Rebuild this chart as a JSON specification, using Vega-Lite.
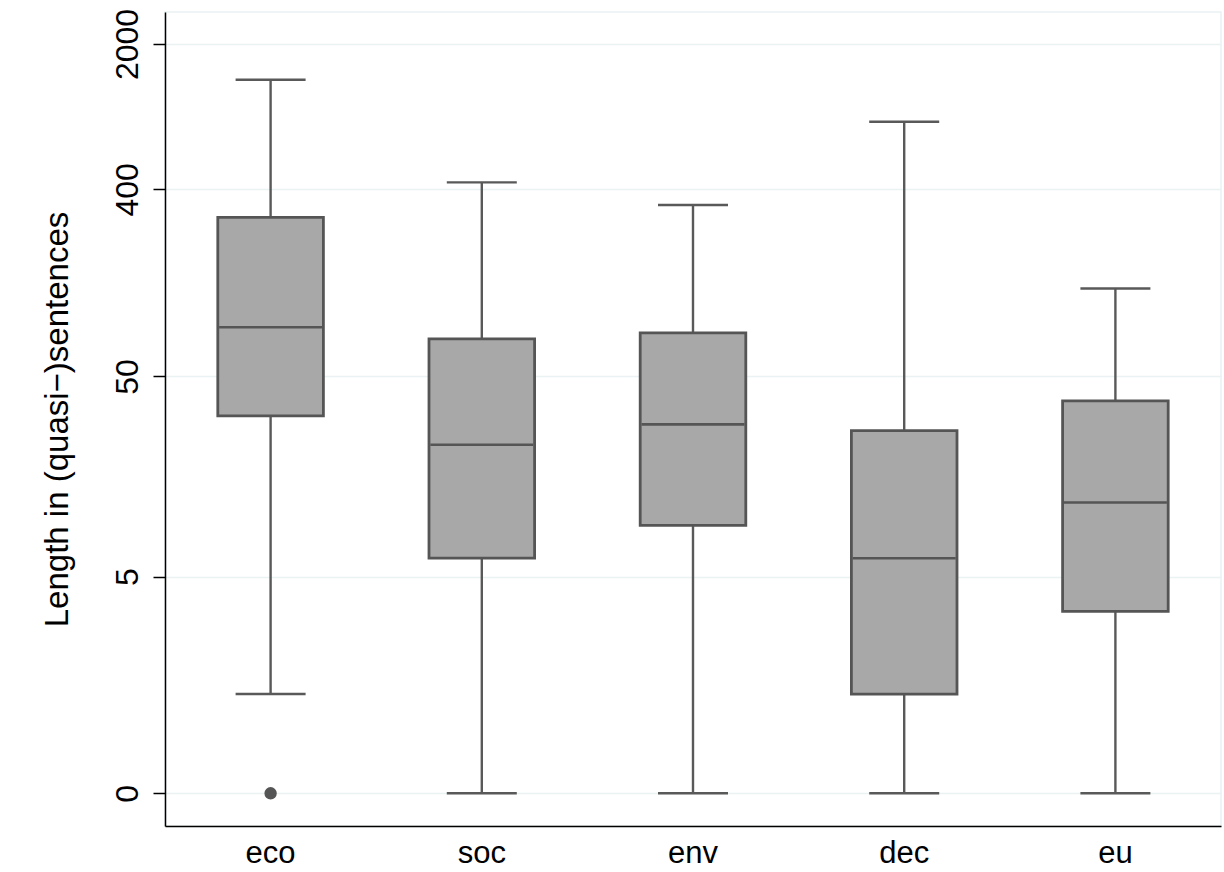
{
  "$schema": "https://vega.github.io/schema/vega-lite/v6.json",
  "width": 1056,
  "height": 814,
  "autosize": "none",
  "padding": {"left": 165, "top": 12, "right": 3, "bottom": 46},
  "background": "white",
  "config": {
    "view": {"stroke": "#EAF2F3", "strokeWidth": 1.5},
    "font": "Liberation Sans"
  },
  "datasets": {
    "boxes": [
      {"cat": "eco", "lower": 1, "q1": 32.1, "median": 86.5, "q3": 293, "upper": 1347},
      {"cat": "soc", "lower": 0, "q1": 6.25, "median": 23.2, "q3": 76, "upper": 432},
      {"cat": "env", "lower": 0, "q1": 9.2, "median": 29.2, "q3": 81.3, "upper": 336},
      {"cat": "dec", "lower": 0, "q1": 1, "median": 6.25, "q3": 27.2, "upper": 846},
      {"cat": "eu", "lower": 0, "q1": 3.25, "median": 12.0, "q3": 38, "upper": 133}
    ],
    "outliers": [
      {"cat": "eco", "value": 0}
    ]
  },
  "encoding": {
    "x": {
      "field": "cat",
      "type": "nominal",
      "sort": ["eco", "soc", "env", "dec", "eu"],
      "scale": {"domain": ["eco", "soc", "env", "dec", "eu"], "paddingInner": 0, "paddingOuter": 0},
      "axis": {
        "title": null,
        "labelAngle": 0,
        "labelFontSize": 31,
        "labelColor": "black",
        "labelFont": "Liberation Sans",
        "labelBaseline": "alphabetic",
        "labelPadding": 36,
        "ticks": false,
        "tickSize": 0,
        "domainColor": "black",
        "domainWidth": 1.5,
        "grid": false
      }
    }
  },
  "layer": [
    {
      "data": {"name": "boxes"},
      "mark": {"type": "rule", "color": "#595959", "strokeWidth": 2.4},
      "encoding": {
        "y": {
          "field": "lower",
          "type": "quantitative",
          "scale": {"type": "symlog", "constant": 0.5, "domain": [-0.218, 2851], "nice": false, "zero": false},
          "axis": {
            "title": "Length in (quasi−)sentences",
            "titleFontSize": 33,
            "titleFont": "Liberation Sans",
            "titleFontWeight": "normal",
            "titleColor": "black",
            "titleBaseline": "alphabetic",
            "titleX": -98,
            "titleY": 407,
            "titleAngle": 270,
            "titleAlign": "center",
            "values": [0, 5, 50, 400, 2000],
            "format": "d",
            "labelAngle": 270,
            "labelAlign": "center",
            "labelBaseline": "alphabetic",
            "labelFontSize": 32,
            "labelFont": "Liberation Sans",
            "labelColor": "black",
            "labelPadding": 16,
            "tickSize": 12,
            "tickColor": "black",
            "tickWidth": 1.5,
            "domainColor": "black",
            "domainWidth": 1.5,
            "grid": true,
            "gridColor": "#EAF2F3",
            "gridWidth": 1.5
          }
        },
        "y2": {"field": "upper"}
      }
    },
    {
      "data": {"name": "boxes"},
      "mark": {"type": "tick", "color": "#595959", "size": 70, "thickness": 2.4, "opacity": 1},
      "encoding": {"y": {"field": "upper", "type": "quantitative"}}
    },
    {
      "data": {"name": "boxes"},
      "mark": {"type": "tick", "color": "#595959", "size": 70, "thickness": 2.4, "opacity": 1},
      "encoding": {"y": {"field": "lower", "type": "quantitative"}}
    },
    {
      "data": {"name": "boxes"},
      "mark": {"type": "bar", "width": {"band": 0.5}, "fill": "#A8A8A8", "stroke": "#555555", "strokeWidth": 2.8},
      "encoding": {
        "y": {"field": "q1", "type": "quantitative"},
        "y2": {"field": "q3"}
      }
    },
    {
      "data": {"name": "boxes"},
      "mark": {"type": "tick", "color": "#555555", "size": 103, "thickness": 2.6, "opacity": 1},
      "encoding": {"y": {"field": "median", "type": "quantitative"}}
    },
    {
      "data": {"name": "outliers"},
      "mark": {"type": "point", "filled": true, "color": "#555555", "size": 154, "opacity": 1},
      "encoding": {"y": {"field": "value", "type": "quantitative"}}
    }
  ]
}
